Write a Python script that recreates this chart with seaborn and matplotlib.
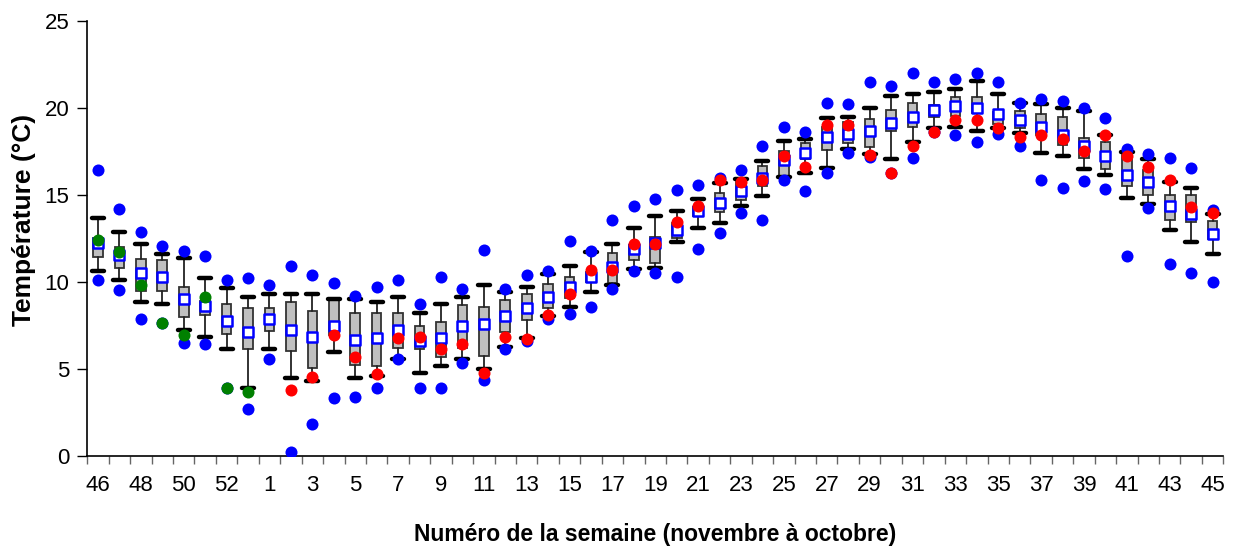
import numpy as np
import matplotlib
matplotlib.use("Agg")
import matplotlib.pyplot as plt
import seaborn as sns

# ---------------- data ----------------
weeks = [str(w) for w in range(46, 54)] + [str(w) for w in range(1, 46)]

vmax = [16.44, 14.18, 12.89, 12.09, 11.80, 11.49, 10.11, 10.21, 9.83, 10.92,
        10.40, 9.92, 9.21, 9.73, 10.11, 8.74, 10.31, 9.62, 11.82, 9.60,
        10.40, 10.63, 12.37, 11.80, 13.56, 14.37, 14.77, 15.29, 15.56, 15.96,
        16.44, 17.82, 18.93, 18.64, 20.31, 20.21, 21.48, 21.28, 21.99, 21.48,
        21.67, 21.99, 21.48, 20.31, 20.51, 20.40, 20.00, 19.41, 17.64, 17.36,
        17.14, 16.53, 14.14]
whis_hi = [13.68, 12.89, 12.18, 11.61, 11.40, 10.23, 9.63, 9.14, 9.31, 9.33,
           9.33, 9.02, 9.02, 8.83, 9.12, 8.24, 8.74, 9.12, 9.83, 9.43,
           9.71, 10.44, 10.90, 11.74, 12.18, 13.08, 13.79, 14.08, 14.77, 15.67,
           15.92, 16.95, 18.12, 18.22, 19.41, 19.50, 19.98, 20.70, 20.80, 20.90,
           21.09, 21.57, 20.80, 20.31, 20.21, 20.00, 19.83, 18.43, 17.49, 17.05,
           15.76, 15.38, 13.89]
q3 = [12.50, 12.03, 11.34, 11.26, 9.69, 8.93, 8.75, 8.49, 8.49, 8.87,
      8.35, 8.97, 8.20, 8.20, 8.20, 7.47, 7.70, 8.66, 8.56, 8.97,
      9.29, 9.87, 10.27, 10.59, 11.65, 12.13, 12.60, 13.37, 14.30, 15.10,
      15.75, 16.69, 17.53, 17.97, 18.93, 19.21, 19.35, 19.87, 20.27, 20.17,
      20.65, 20.65, 19.79, 19.84, 19.66, 19.47, 18.26, 18.06, 17.30, 16.44,
      15.00, 15.00, 13.52]
mean = [12.22, 11.57, 10.54, 10.31, 9.02, 8.62, 7.76, 7.14, 7.85, 7.24,
        6.86, 7.47, 6.67, 6.76, 7.24, 6.63, 6.76, 7.45, 7.56, 8.05,
        8.52, 9.12, 9.73, 10.31, 10.84, 11.88, 12.22, 12.99, 14.10, 14.56,
        15.25, 15.96, 17.01, 17.43, 18.31, 18.51, 18.70, 19.12, 19.50, 19.89,
        20.11, 20.02, 19.64, 19.31, 18.93, 18.45, 17.82, 17.24, 16.15, 15.76,
        14.37, 13.91, 12.76]
q1 = [11.46, 10.79, 9.46, 9.46, 8.01, 8.10, 7.01, 6.13, 7.18, 6.03,
      5.04, 6.95, 5.23, 5.19, 6.19, 6.13, 5.71, 6.19, 5.73, 7.14,
      7.82, 8.49, 9.06, 10.02, 9.96, 11.26, 11.07, 12.51, 13.79, 14.02,
      14.71, 15.52, 16.05, 17.09, 17.59, 17.97, 17.78, 18.68, 18.93, 19.47,
      19.54, 19.69, 19.06, 18.87, 18.45, 17.87, 17.11, 16.48, 15.52, 15.00,
      13.56, 13.47, 12.45]
whis_lo = [10.61, 10.11, 8.83, 8.74, 7.24, 6.86, 6.17, 3.89, 6.15, 4.47,
           4.31, 5.96, 4.48, 4.62, 5.57, 4.79, 5.17, 5.57, 4.98, 6.28,
           6.76, 8.05, 8.54, 9.43, 9.81, 10.73, 10.82, 12.28, 13.08, 13.37,
           14.37, 14.96, 16.05, 16.25, 16.53, 17.63, 17.34, 17.05, 18.05, 18.83,
           18.93, 18.70, 18.83, 18.54, 17.43, 17.24, 16.48, 16.15, 14.81, 14.48,
           12.99, 12.28, 11.61]
vmin = [10.11, 9.54, 7.85, 7.64, 6.51, 6.46, 3.89, 2.70, 5.57, 0.25,
        1.84, 3.31, 3.41, 3.91, 5.57, 3.91, 3.91, 5.36, 4.37, 6.17,
        6.63, 7.85, 8.14, 8.54, 9.62, 10.63, 10.54, 10.31, 11.90, 12.80,
        13.95, 13.56, 15.86, 15.25, 16.25, 17.43, 17.16, 16.25, 17.14, 18.64,
        18.43, 18.05, 18.51, 17.83, 15.86, 15.38, 15.80, 15.36, 11.51, 14.27,
        11.02, 10.54, 10.02]
nan = float("nan")
prev_year = [12.40, 11.71, 9.83, 7.64, 6.95, 9.12, 3.89, 3.70] + [nan] * 45
this_year = [nan] * 9 + [
    3.79, 4.56, 6.95, 5.67, 4.69, 6.76, 6.86, 6.15, 6.44, 4.79,
    6.86, 6.74, 8.12, 9.31, 10.71, 10.71, 12.18, 12.18, 13.47, 14.39,
    15.86, 15.73, 15.86, 17.24, 16.63, 19.00, 19.00, 17.30, 16.25, 17.83,
    18.64, 19.31, 19.31, 18.83, 18.35, 18.43, 18.22, 17.55, 18.43, 17.24,
    16.63, 15.86, 14.29, 13.99]

# ---------------- style ----------------
sns.set_style("ticks")
plt.rcParams["font.family"] = ["Liberation Sans", "DejaVu Sans"]
plt.rcParams["text.color"] = "black"
plt.rcParams["axes.labelcolor"] = "black"
plt.rcParams["xtick.color"] = "black"
plt.rcParams["ytick.color"] = "black"

fig = plt.figure(figsize=(12.38, 5.46), dpi=100)
ax = fig.add_axes([87.3 / 1238, 90 / 546, 1136 / 1238, 435 / 546])

pos = np.arange(len(weeks))

stats = []
for i in range(len(weeks)):
    stats.append(dict(med=mean[i], q1=q1[i], q3=q3[i], whislo=whis_lo[i],
                      whishi=whis_hi[i], mean=mean[i], fliers=[]))
ax.bxp(stats, positions=pos, widths=0.45, capwidths=0.56, patch_artist=True,
       showfliers=False, showmeans=False,
       boxprops=dict(facecolor="#C0C0C0", edgecolor="#333333", linewidth=1.3),
       whiskerprops=dict(color="#222222", linewidth=1.3),
       capprops=dict(color="black", linewidth=3.2),
       medianprops=dict(linewidth=0))

dot = dict(s=75, linewidth=0, legend=False, zorder=4)
sns.scatterplot(x=pos, y=vmax, color="#0000FF", ax=ax, **dot)
sns.scatterplot(x=pos, y=vmin, color="#0000FF", ax=ax, **dot)
sns.scatterplot(x=pos, y=mean, marker="s", color="white", edgecolor="#0000FF",
                linewidth=1.8, s=55, ax=ax, legend=False, zorder=5)
sns.scatterplot(x=pos, y=prev_year, color="#008000", ax=ax,
                **{**dot, "zorder": 6})
sns.scatterplot(x=pos, y=this_year, color="#FF0000", ax=ax,
                **{**dot, "zorder": 6})

ax.set_xlim(-0.5, len(weeks) - 0.5)
ax.set_ylim(0, 25)
ax.set_yticks([0, 5, 10, 15, 20, 25])
ax.set_xticks(pos[::2])
ax.set_xticklabels(weeks[::2])
ax.set_xticks(np.arange(-0.5, len(weeks), 1), minor=True)
ax.tick_params(axis="x", which="major", length=0, pad=14, labelsize=16,
               labelcolor="black")
ax.tick_params(axis="x", which="minor", length=6, width=1, color="#666666")
ax.tick_params(axis="y", which="major", length=7, width=1, color="black",
               labelsize=16, pad=6, labelcolor="black")
for sp in ["top", "right"]:
    ax.spines[sp].set_visible(False)
for sp in ["left", "bottom"]:
    ax.spines[sp].set_color("black")
    ax.spines[sp].set_linewidth(1.2)

ax.set_ylabel("Température (°C)", fontsize=19, fontweight="bold",
              color="black")
ax.set_xlabel("Numéro de la semaine (novembre à octobre)", fontsize=16.5,
              fontweight="bold", color="black")
ax.yaxis.set_label_coords(-0.045, 0.543)
ax.xaxis.set_label_coords(0.5, -0.155)

fig.savefig("out.png", dpi=100)
